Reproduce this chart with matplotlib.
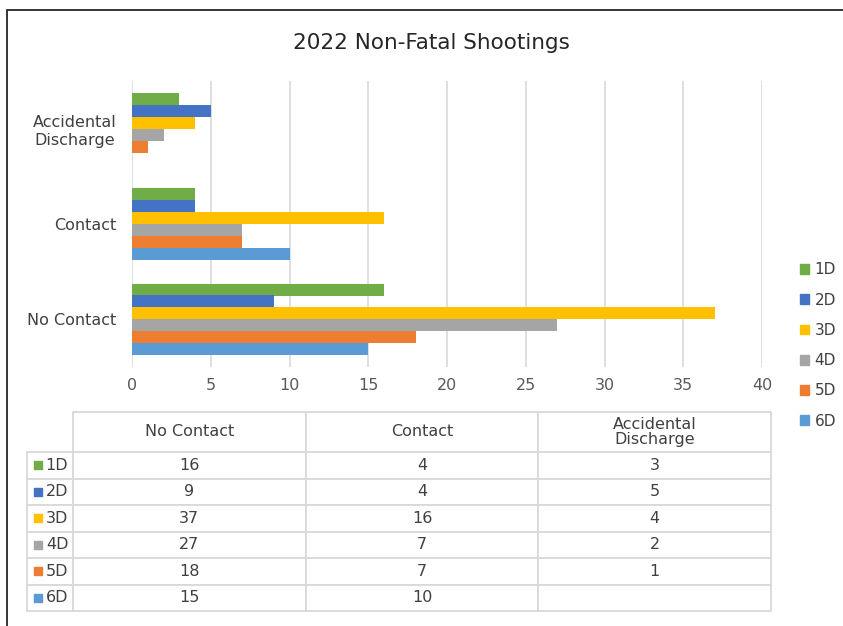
import numpy as np
import matplotlib.pyplot as plt
from matplotlib.patches import Patch, Rectangle
from matplotlib.table import Table

W, H = 843, 626

categories = ["No Contact", "Contact", "Accidental\nDischarge"]
series = ["1D", "2D", "3D", "4D", "5D", "6D"]
colors = ["#70AD47", "#4472C4", "#FFC000", "#A5A5A5", "#ED7D31", "#5B9BD5"]

# values per series, in category order (No Contact, Contact, Accidental Discharge)
d1 = [16, 4, 3]
d2 = [9, 4, 5]
d3 = [37, 16, 4]
d4 = [27, 7, 2]
d5 = [18, 7, 1]
d6 = [15, 10, None]
values = [d1, d2, d3, d4, d5, d6]

x_ticks = [0, 5, 10, 15, 20, 25, 30, 35, 40]

TXT = "#595959"
GRID = "#d9d9d9"
plt.rcParams["font.family"] = ["DejaVu Sans"]

fig = plt.figure(figsize=(W / 100, H / 100), dpi=100)

# chart frame (only left and top edges visible in the screenshot)
fig.add_artist(Rectangle((7 / W, -0.5), 2, 1.5 - 10 / H, transform=fig.transFigure,
                         fill=False, edgecolor="#262626", lw=1.3))

fig.text(431 / W, 1 - 43 / H, "2022 Non-Fatal Shootings", ha="center", va="center",
         fontsize=15.5, color="#262626")

# ---- bar chart ----
ax = fig.add_axes([132 / W, 1 - 367 / H, (762 - 132) / W, (367 - 81) / H])
y = np.arange(len(categories))
bar_h = 0.125
for i, (name, vals, c) in enumerate(zip(series, values, colors)):
    v = [0 if x is None else x for x in vals]
    ax.barh(y + (2.5 - i) * bar_h, v, height=bar_h, color=c, label=name, zorder=2)

ax.set_xlim(0, 40)
ax.set_ylim(-0.5, 2.5)
ax.set_xticks(x_ticks)
ax.set_yticks(y, categories)
for lab in ax.get_yticklabels():
    lab.set_multialignment("center")
ax.tick_params(axis="y", length=0, pad=11, labelsize=11.5, labelcolor="#404040")
ax.tick_params(axis="x", length=0, pad=8, labelsize=11.5, labelcolor=TXT)
ax.grid(axis="x", color=GRID, lw=1.2)
ax.set_axisbelow(True)
for s in ax.spines.values():
    s.set_visible(False)

# ---- data table ----
ax_t = fig.add_axes([27 / W, 1 - 611 / H, (771 - 27) / W, (611 - 412) / H])
ax_t.axis("off")
label_w, col_w = 46, 233
hdr_h, row_h = 40, 26.5
total_w = label_w + col_w * len(categories)
total_h = hdr_h + row_h * len(series)

tbl = Table(ax_t, bbox=[0, 0, 1, 1])
for j, cat in enumerate(categories):
    tbl.add_cell(0, j + 1, col_w, hdr_h, text=cat, loc="center", facecolor="white")
for i, (name, vals) in enumerate(zip(series, values)):
    tbl.add_cell(i + 1, 0, label_w, row_h, text=name, loc="right", facecolor="white")
    for j, v in enumerate(vals):
        tbl.add_cell(i + 1, j + 1, col_w, row_h, text="" if v is None else str(v),
                     loc="center", facecolor="white")
tbl.auto_set_font_size(False)
tbl.set_fontsize(11.5)
for (r, c), cell in tbl.get_celld().items():
    cell.set_edgecolor(GRID)
    cell.set_linewidth(1.3)
    cell.get_text().set_color("#404040")
    if r == 0:
        cell.get_text().set_linespacing(1.0)
ax_t.add_table(tbl)

for i, c in enumerate(colors):
    yc = 1 - (hdr_h + row_h * (i + 0.5)) / total_h
    ax_t.scatter([11 / total_w], [yc], marker="s", s=36, color=c,
                 transform=ax_t.transAxes, clip_on=False, zorder=5)

# ---- legend ----
handles = [Patch(color=c) for c in colors]
fig.legend(handles, series, loc="center left", bbox_to_anchor=(800 / W, 1 - 345.5 / H),
           frameon=False, borderaxespad=0, borderpad=0,
           handlelength=0.6, handleheight=0.6, handletextpad=0.35,
           labelspacing=1.0, fontsize=11, labelcolor="#404040")

fig.savefig("out.png", dpi=100)
